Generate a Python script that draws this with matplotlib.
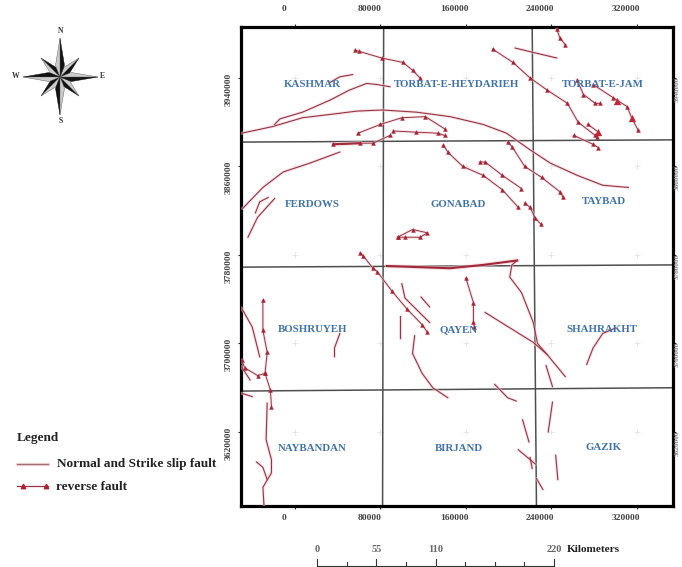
import matplotlib
matplotlib.use("Agg")
import matplotlib.pyplot as plt

SERIF = "Liberation Serif"
plt.rcParams["font.family"] = SERIF

# Map coordinates in km (easting, northing)
x_ticks = [0, 80, 160, 240, 320]
y_ticks = [3940, 3860, 3780, 3700, 3620]
x_tick_labels = ["0", "80000", "160000", "240000", "320000"]
y_tick_labels = ["3940000", "3860000", "3780000", "3700000", "3620000"]

normal_faults = [
    ([33, 42, 54], [3936, 3941, 3943]),
    ([-19, -14, 7, 33, 51, 67, 77, 89], [3898, 3903, 3909, 3920, 3929, 3935, 3934, 3932]),
    ([-50, -21, 7, 33, 58, 82, 114, 145, 176, 198, 220, 239, 264, 288, 312],
     [3890, 3896, 3904, 3907, 3910, 3911, 3909, 3905, 3898, 3890, 3875, 3863, 3852, 3843, 3841]),
    ([42, 14, -11, -30, -49], [3873, 3863, 3855, 3841, 3822]),
    ([-37, -33, -25], [3818, 3828, 3832]),
    ([-44, -35, -19], [3796, 3814, 3831]),
    ([206, 223, 245], [3967, 3963, 3958]),
    ([100, 103, 126], [3754, 3741, 3719]),
    ([118, 126], [3742, 3733]),
    ([98, 98], [3725, 3705]),
    ([112, 110, 119, 129, 143], [3707, 3691, 3673, 3660, 3651]),
    ([42, 37, 37], [3709, 3696, 3688]),
    ([-50, -40, -33], [3732, 3715, 3688]),
    ([-50, -42], [3679, 3667]),
    ([-50, -40], [3655, 3652]),
    ([-26, -27, -22, -22, -30, -29], [3646, 3613, 3595, 3583, 3570, 3554]),
    ([-36, -30, -26], [3593, 3588, 3577]),
    ([208, 203, 201, 212, 223, 227, 236], [3775, 3771, 3760, 3746, 3719, 3700, 3690]),
    ([178, 223, 236, 253], [3728, 3701, 3690, 3670]),
    ([235, 241], [3680, 3661]),
    ([187, 199, 207], [3663, 3651, 3648]),
    ([241, 237], [3647, 3620]),
    ([213, 219], [3631, 3611]),
    ([209, 225], [3604, 3591]),
    ([220, 222], [3597, 3587]),
    ([226, 232], [3578, 3568]),
    ([244, 246], [3599, 3577]),
    ([273, 279, 288, 300], [3681, 3696, 3709, 3714]),
]
thick_faults = [
    ([86, 145, 176, 208], [3770, 3768, 3771, 3775]),
    ([36, 61], [3880, 3881]),
]

reverse_faults = [
    ([56, 60, 81, 101, 110, 117], [3965, 3964, 3958, 3954, 3947, 3940]),
    ([59, 80, 100, 122, 140], [3890, 3898, 3904, 3905, 3894]),
    ([92, 113, 134, 140], [3892, 3891, 3890, 3888]),
    ([36, 61, 73, 89], [3880, 3881, 3881, 3888]),
    ([96, 110, 124, 117, 103, 96], [3796, 3803, 3800, 3796, 3796, 3796]),
    ([139, 143, 157, 176, 194, 209], [3879, 3873, 3860, 3852, 3839, 3823]),
    ([173, 178, 194, 212], [3864, 3864, 3852, 3840]),
    ([199, 203, 215, 231, 248, 251], [3882, 3878, 3860, 3850, 3837, 3832]),
    ([215, 220, 225, 230], [3827, 3823, 3813, 3808]),
    ([185, 204, 220, 236, 255, 265, 281], [3966, 3954, 3940, 3929, 3917, 3900, 3888]),
    ([245, 248, 253], [3984, 3976, 3970]),
    ([264, 270, 281, 285], [3938, 3925, 3917, 3917]),
    ([279, 298, 311, 315, 321], [3934, 3922, 3914, 3904, 3893]),
    ([261, 279, 284], [3888, 3880, 3877]),
    ([274, 284, 283], [3898, 3891, 3887]),
    ([61, 64, 73, 77, 91, 105, 119, 124], [3782, 3779, 3768, 3765, 3747, 3731, 3717, 3710]),
    ([-30, -30, -26, -28, -23, -22], [3739, 3712, 3692, 3673, 3658, 3643]),
    ([-50, -47, -35, -28], [3685, 3678, 3671, 3673]),
    ([160, 167, 167, 168], [3759, 3737, 3719, 3715]),
]
heavy_teeth_x = [301, 315, 284]
heavy_teeth_y = [3919, 3904, 3891]

sheet_v = [([83, 82], [3986, 3553.4]), ([222, 226], [3986, 3553.4])]
sheet_h = [([-50.5, 353.5], [3882, 3884]), ([-50.5, 353.5], [3769, 3771]), ([-50.5, 353.5], [3657, 3660])]

sheet_names = ["KASHMAR", "TORBAT-E-HEYDARIEH", "TORBAT-E-JAM",
               "FERDOWS", "GONABAD", "TAYBAD",
               "BOSHRUYEH", "QAYEN", "SHAHRAKHT",
               "NAYBANDAN", "BIRJAND", "GAZIK"]
sheet_x = [16, 151, 288, 16, 153, 289, 16, 153, 287, 16, 153, 289]
sheet_y = [3934, 3934, 3934, 3826, 3826, 3828, 3713, 3712, 3713, 3605, 3605, 3606]

scale_km = [0, 55, 110, 220]

W, H = 682, 567
fig = plt.figure(figsize=(W / 100, H / 100), dpi=100, facecolor="white")
ax = fig.add_axes([241 / W, 1 - 505.7 / H, (672.7 - 241) / W, (505.7 - 27) / H])
ax.set_xlim(-50.5, 353.5)
ax.set_ylim(3553.4, 3986)

for xs, ys in sheet_v + sheet_h:
    ax.plot(xs, ys, color="#4f4f4f", lw=1.1, zorder=2)

ax.scatter([x for x in x_ticks for _ in y_ticks], [y for _ in x_ticks for y in y_ticks],
           marker="+", s=14, color="#e8e8e8", lw=0.8, zorder=1)

HALO = "#f4cdd2"
LINE = "#943444"
for xs, ys in normal_faults:
    ax.plot(xs, ys, color=HALO, lw=2.2, alpha=0.6, zorder=3, solid_capstyle="round")
    ax.plot(xs, ys, color=LINE, lw=0.8, zorder=4)
for xs, ys in thick_faults:
    ax.plot(xs, ys, color=HALO, lw=3, alpha=0.6, zorder=3)
    ax.plot(xs, ys, color="#a3273a", lw=1.5, zorder=4)
for xs, ys in reverse_faults:
    ax.plot(xs, ys, color=HALO, lw=2.0, alpha=0.6, zorder=3)
    ax.plot(xs, ys, color=LINE, lw=0.7, zorder=4, marker="^", ms=2.8,
            mfc="#a8202f", mec="#a8202f", mew=0.3)
ax.scatter(heavy_teeth_x, heavy_teeth_y, marker="^", s=28, color="#c0283a", lw=0, zorder=4)

for name, x, y in zip(sheet_names, sheet_x, sheet_y):
    ax.text(x, y, name, ha="center", va="center", fontsize=7.8, fontweight="bold",
            color="#3f72ab", zorder=5)

ax.set_xticks(x_ticks)
ax.set_yticks(y_ticks)
ax.set_xticklabels([])
ax.set_yticklabels([])
ax.tick_params(axis="both", top=True, bottom=True, left=True, right=True,
               direction="out", length=2.5, width=0.8, color="#333333")
for s in ax.spines.values():
    s.set_linewidth(2.3)

for x, lab in zip(x_ticks, x_tick_labels):
    for yf, dy in ((1, 13), (0, -9)):
        ax.annotate(lab, (x, yf), xycoords=("data", "axes fraction"), xytext=(-8, dy),
                    textcoords="offset points", ha="center", va="center",
                    fontsize=6.8, fontweight="bold", color="#444444", annotation_clip=False)
for y, lab in zip(y_ticks, y_tick_labels):
    ax.annotate(lab, (0, y), xycoords=("axes fraction", "data"), xytext=(-9, -8),
                textcoords="offset points", ha="center", va="center", rotation=90,
                fontsize=6.8, fontweight="bold", color="#444444", annotation_clip=False)
    ax.annotate(lab, (1, y), xycoords=("axes fraction", "data"), xytext=(3.6, -8),
                textcoords="offset points", ha="center", va="center", rotation=90,
                fontsize=5.2, fontweight="bold", color="#888888", annotation_clip=False)

# Overlay in figure pixels for the map furniture
ov = fig.add_axes([0, 0, 1, 1], facecolor="none")
ov.set_xlim(0, W)
ov.set_ylim(H, 0)
ov.axis("off")

# Compass
cx, cy = 60, 77
long_tips = [(0, -39), (38, 0), (0, 38), (-37, 0)]
short_tips = [(19, -19), (19, 19), (-19, 19), (-19, -19)]
for tips, half, frac in ((short_tips, 4.0, 0.35), (long_tips, 4.5, 0.3)):
    for dx, dy in tips:
        n = (dx * dx + dy * dy) ** 0.5
        px, py = -dy / n * half, dx / n * half
        mx, my = cx + dx * frac, cy + dy * frac
        tip = (cx + dx, cy + dy)
        ov.fill([tip[0], mx + px, cx], [tip[1], my + py, cy], color="#111111", lw=0.3, zorder=6)
        ov.fill([tip[0], mx - px, cx], [tip[1], my - py, cy], fc="#cccccc", ec="#555555", lw=0.3, zorder=6)
for lab, x, y in (("N", 61, 31), ("S", 61, 121), ("W", 16, 76), ("E", 102, 76)):
    ov.text(x, y, lab, ha="center", va="center", fontsize=5.5, fontweight="bold", color="#333333")

# Legend
LEG = 9.5
ov.text(17, 438, "Legend", ha="left", va="center", fontsize=LEG, fontweight="bold", color="#222222")
ov.plot([17, 48], [464, 464], color=HALO, lw=2.4, alpha=0.6)
ov.plot([17, 48], [464, 464], color="#a66a74", lw=1.0)
ov.text(57, 464, "Normal and Strike slip fault", ha="left", va="center", fontsize=LEG,
        fontweight="bold", color="#222222")
ov.plot([17, 48], [486, 486], color=LINE, lw=0.9)
ov.plot([23, 46], [485.5, 485.5], ls="none", marker="^", ms=3.2, color="#b0202f")
ov.text(56, 487, "reverse fault", ha="left", va="center", fontsize=LEG,
        fontweight="bold", color="#222222")

# Scale bar (0-220 km spans 317-554 px)
px_per_km = (554 - 317) / 220
sub_ticks = [0, 27.5, 55, 82.5, 110, 137.5, 165, 192.5, 220]
ov.plot([317, 554], [566, 566], color="#333333", lw=0.8, clip_on=False)
for k in sub_ticks:
    x = 317 + k * px_per_km
    top = 559 if k in scale_km else 562
    ov.plot([x, x], [566, top], color="#333333", lw=0.8)
for k in scale_km:
    ov.text(317 + k * px_per_km, 550, str(k), ha="center", va="center", fontsize=7.5,
            color="#666666", fontweight="bold")
ov.text(567, 550, "Kilometers", ha="left", va="center", fontsize=8.1, fontweight="bold", color="#222222")

fig.savefig("out.png", dpi=100)
